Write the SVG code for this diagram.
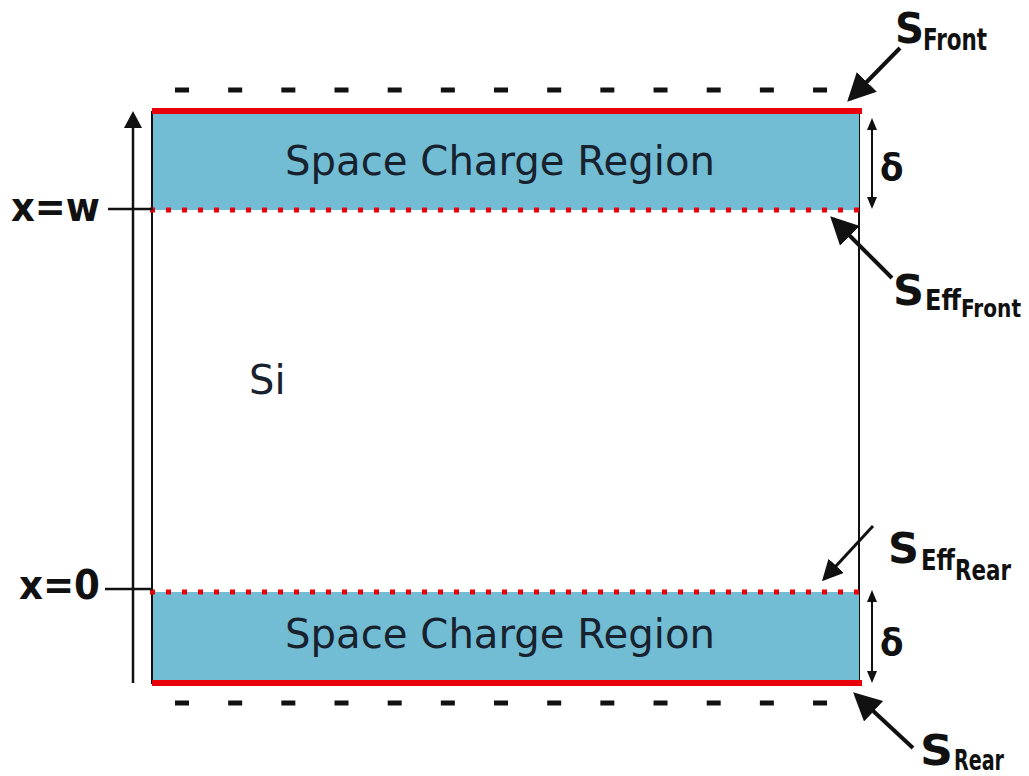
<svg xmlns="http://www.w3.org/2000/svg" width="1029" height="776" viewBox="0 0 1029 776">
<style>
.scr{font-family:"DejaVu Sans","Liberation Sans",sans-serif;font-size:40px;fill:#17222e;}
.lbl{font-family:"DejaVu Sans Condensed","DejaVu Sans","Liberation Sans",sans-serif;font-weight:bold;fill:#111;}
.red{stroke:#e8000b;stroke-width:6;}
.dot{stroke:#e8000b;stroke-width:5;stroke-dasharray:5 11;}
.dash{stroke:#111;stroke-width:5;stroke-dasharray:14 39.17;}
.arr{stroke:#111;stroke-width:4;fill:none;}
.thin{stroke:#111;stroke-width:2;fill:none;}
</style>
<defs>
<marker id="bigHead" markerWidth="8" markerHeight="8" refX="6" refY="3.5" orient="auto" markerUnits="strokeWidth"><path d="M0,0 L7,3.5 L0,7 z" fill="#111"/></marker>
</defs>
<rect width="1029" height="776" fill="#fff"/>
<g id="silicon">
<rect x="152" y="112" width="707" height="571" fill="#fff" stroke="#111" stroke-width="2"/>
<text class="scr" x="249" y="394" font-size="38">Si</text>
</g>
<g id="scr-top">
<rect x="152" y="112" width="707" height="98" fill="#72bdd4"/>
<line x1="152" y1="112" x2="152" y2="210" stroke="#111" stroke-width="2"/>
<text class="scr" x="500" y="175" text-anchor="middle" textLength="430" lengthAdjust="spacingAndGlyphs">Space Charge Region</text>
</g>
<g id="scr-bottom">
<rect x="152" y="592" width="707" height="91" fill="#72bdd4"/>
<line x1="152" y1="592" x2="152" y2="683" stroke="#111" stroke-width="2"/>
<text class="scr" x="500" y="648" text-anchor="middle" textLength="430" lengthAdjust="spacingAndGlyphs">Space Charge Region</text>
</g>
<g id="surfaces">
<line class="red" x1="152" y1="111" x2="862" y2="111"/>
<line class="red" x1="152" y1="683" x2="862" y2="683"/>
<line class="dot" x1="150" y1="210" x2="862" y2="210"/>
<line class="dot" x1="150" y1="592" x2="862" y2="592"/>
<line class="dash" x1="175" y1="90" x2="828" y2="90"/>
<line class="dash" x1="175" y1="703" x2="828" y2="703"/>
</g>
<g id="axis">
<line x1="133" y1="683" x2="133" y2="126" stroke="#111" stroke-width="2.5"/>
<path d="M133,111 L124,128 L142,128 z" fill="#111"/>
<line x1="108" y1="209" x2="153" y2="209" stroke="#111" stroke-width="2.5"/>
<line x1="105" y1="589" x2="153" y2="589" stroke="#111" stroke-width="2.5"/>
<text class="lbl" x="11" y="221" font-size="40" textLength="89" lengthAdjust="spacingAndGlyphs">x=w</text>
<text class="lbl" x="19" y="599" font-size="40" textLength="81" lengthAdjust="spacingAndGlyphs">x=0</text>
</g>
<g id="delta-top">
<line class="thin" x1="872" y1="128" x2="872" y2="198"/>
<path d="M872,118 L867,130 L877,130 z M872,209 L867,197 L877,197 z" fill="#111"/>
<text class="lbl" x="880" y="180" font-size="38">δ</text>
</g>
<g id="delta-bottom">
<line class="thin" x1="872" y1="600" x2="872" y2="673"/>
<path d="M872,590 L867,602 L877,602 z M872,683 L867,671 L877,671 z" fill="#111"/>
<text class="lbl" x="880" y="655" font-size="38">δ</text>
</g>
<g id="connectors">
<line class="arr" x1="900" y1="48" x2="850" y2="99" marker-end="url(#bigHead)"/>
<line class="arr" x1="892" y1="278" x2="833" y2="219" marker-end="url(#bigHead)"/>
<line class="arr" x1="873" y1="526" x2="824" y2="579" marker-end="url(#bigHead)" style="stroke-width:3"/>
<line class="arr" x1="913" y1="748" x2="856" y2="695" marker-end="url(#bigHead)"/>
</g>
<g id="label-sfront">
<text class="lbl" x="895" y="43" font-size="42" textLength="29" lengthAdjust="spacingAndGlyphs">S</text>
<text class="lbl" x="923" y="50" font-size="30" textLength="64" lengthAdjust="spacingAndGlyphs">Front</text>
</g>
<g id="label-sefffront">
<text class="lbl" x="893" y="305" font-size="42" textLength="31" lengthAdjust="spacingAndGlyphs">S</text>
<text class="lbl" x="925" y="310" font-size="28" textLength="36" lengthAdjust="spacingAndGlyphs">Eff</text>
<text class="lbl" x="961" y="317" font-size="25" textLength="60" lengthAdjust="spacingAndGlyphs">Front</text>
</g>
<g id="label-seffrear">
<text class="lbl" x="888" y="563" font-size="42" textLength="31" lengthAdjust="spacingAndGlyphs">S</text>
<text class="lbl" x="921" y="570" font-size="28" textLength="34" lengthAdjust="spacingAndGlyphs">Eff</text>
<text class="lbl" x="955" y="580" font-size="28" textLength="56" lengthAdjust="spacingAndGlyphs">Rear</text>
</g>
<g id="label-srear">
<text class="lbl" x="920" y="765" font-size="42" textLength="33" lengthAdjust="spacingAndGlyphs">S</text>
<text class="lbl" x="954" y="770" font-size="28" textLength="50" lengthAdjust="spacingAndGlyphs">Rear</text>
</g>
</svg>
